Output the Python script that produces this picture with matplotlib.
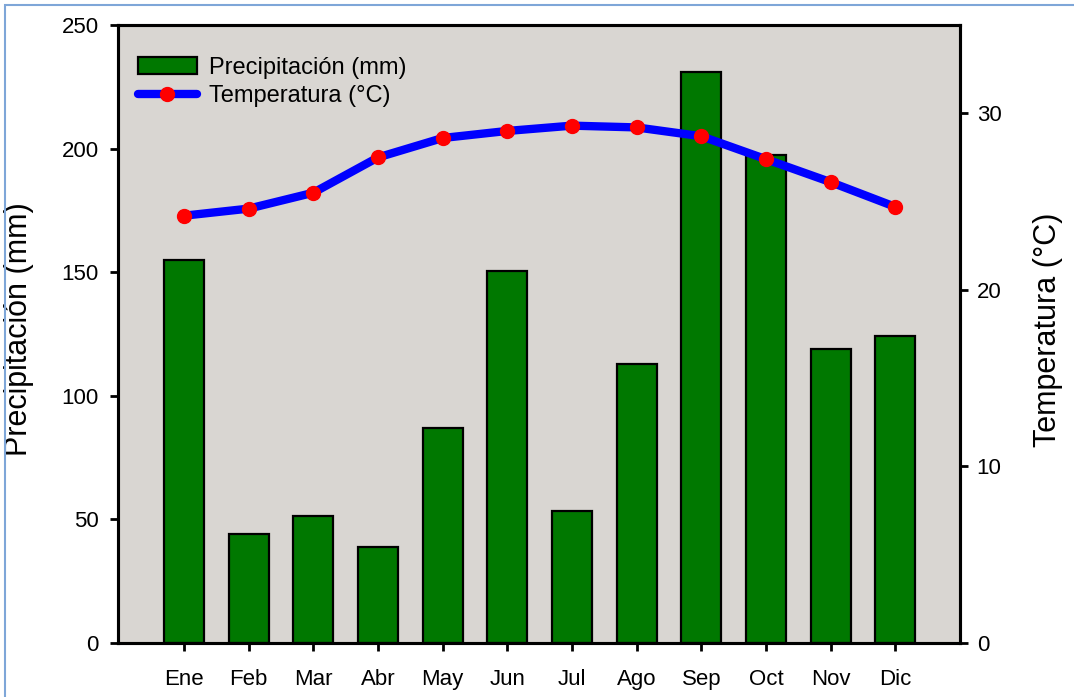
import numpy as np
import matplotlib
matplotlib.use("Agg")
import matplotlib.pyplot as plt
from matplotlib.patches import Rectangle, Patch
from matplotlib.lines import Line2D

plt.rcParams['font.family'] = ['Liberation Sans', 'DejaVu Sans']

meses = ["Ene", "Feb", "Mar", "Abr", "May", "Jun", "Jul", "Ago", "Sep", "Oct", "Nov", "Dic"]
precip = [155, 44, 51.5, 39, 87, 150.5, 53.5, 113, 231, 197.5, 119, 124]
temp = [24.2, 24.6, 25.5, 27.5, 28.6, 29.0, 29.3, 29.2, 28.7, 27.4, 26.1, 24.7]

fig = plt.figure(figsize=(10.74, 6.97), dpi=100)
ax = fig.add_axes([118 / 1074, 1 - 643 / 697, 842 / 1074, 618 / 697])
ax2 = ax.twinx()

x = np.arange(len(meses))
ax.set_facecolor("#d9d6d2")
ax.bar(x, precip, width=0.62, color="#007800", edgecolor="black", linewidth=1.6, zorder=2)
ax.set_xlim(-1.02, 12.0)
ax.set_ylim(0, 250)
ax.set_yticks([0, 50, 100, 150, 200, 250])
ax.set_xticks(x)
ax.set_xticklabels(meses)

ax2.plot(x, temp, color="#0000ff", linewidth=6, solid_capstyle="round",
         marker="o", markersize=10, markerfacecolor="red", markeredgecolor="red")
ax2.set_ylim(0, 35)
ax2.set_yticks([0, 10, 20, 30])

for a in (ax, ax2):
    for s in a.spines.values():
        s.set_linewidth(2.2)
ax.tick_params(axis="y", direction="out", length=6, width=2, labelsize=16, pad=8)
ax.tick_params(axis="x", direction="out", length=6, width=2, labelsize=16, pad=13)
ax2.tick_params(axis="y", direction="out", length=6, width=2, labelsize=16, pad=6)

ax.set_ylabel("Precipitación (mm)", fontsize=22)
ax.yaxis.set_label_coords(-0.100, 0.508)
ax2.set_ylabel("Temperatura (°C)", fontsize=22, rotation=90)
ax2.yaxis.set_label_coords(1.087, 0.506)

handles = [Patch(facecolor="#007800", edgecolor="black", linewidth=1.6),
           Line2D([], [], color="#0000ff", linewidth=6, solid_capstyle="round",
                  marker="o", markersize=10, markerfacecolor="red", markeredgecolor="red")]
ax2.legend(handles, ["Precipitación (mm)", "Temperatura (°C)"], loc="upper left",
           bbox_to_anchor=(0.004, 0.975), frameon=False, fontsize=17,
           handlelength=2.5, handletextpad=0.5, labelspacing=0.25, borderpad=0.2)

# borde azul del recuadro
fig.patches.append(Rectangle((5 / 1074, -0.1), 1.2, 1 - 5 / 697 + 0.1,
                             transform=fig.transFigure, fill=False,
                             edgecolor="#7ea6d8", linewidth=1.5))

fig.savefig("out.png", dpi=100)
